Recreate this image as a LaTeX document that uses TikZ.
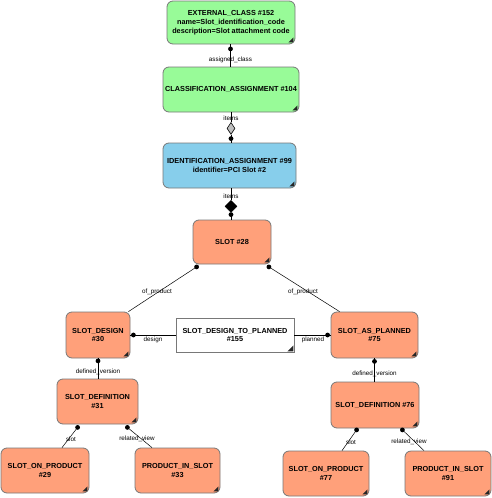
\documentclass[tikz,border=0pt]{standalone}
\usepackage{fontspec}
\setmainfont{Liberation Sans}
\usetikzlibrary{calc,shapes.geometric}
\definecolor{entgreen}{RGB}{152,251,152}
\definecolor{entblue}{RGB}{135,206,235}
\definecolor{entsalmon}{RGB}{255,160,122}
\definecolor{entborder}{RGB}{120,120,120}
\begin{document}
\begin{tikzpicture}[x=1pt,y=-1pt,
  ent/.style={draw=entborder, line width=0.8pt, rounded corners=6pt, align=center,
    font=\fontsize{7.3}{8.8}\selectfont\bfseries, inner sep=1pt},
  green/.style={ent, fill=entgreen},
  blue/.style={ent, fill=entblue},
  salmon/.style={ent, fill=entsalmon},
  plainbox/.style={draw=entborder, line width=0.8pt, fill=white, align=center,
    font=\fontsize{7.3}{8.8}\selectfont\bfseries, inner sep=1pt},
  lbl/.style={font=\fontsize{6.3}{7}\selectfont, inner sep=0.5pt},
  conn/.style={line width=0.6pt, black},
  dotend/.style={fill=black},
  opendia/.style={diamond, draw=black, fill=black!25, line width=0.6pt, minimum width=8pt, minimum height=12pt, inner sep=0pt},
  filldia/.style={diamond, draw=black, fill=black, minimum width=12pt, minimum height=12pt, inner sep=0pt}
]
\useasboundingbox (0,0) rectangle (492,498);

% nodes
\node[green, minimum width=128pt, minimum height=43pt] (ec) at (231,22.5)
  {EXTERNAL\_CLASS \#152\\name=Slot\_identification\_code\\description=Slot attachment code};
\node[green, minimum width=136pt, minimum height=45pt] (ca) at (231,89.5)
  {CLASSIFICATION\_ASSIGNMENT \#104};
\node[blue, minimum width=133pt, minimum height=45pt] (ia) at (229.5,165.5)
  {IDENTIFICATION\_ASSIGNMENT \#99\\identifier=PCI Slot \#2};
\node[salmon, minimum width=78pt, minimum height=44pt] (slot) at (232,242) {SLOT \#28};
\node[salmon, minimum width=64pt, minimum height=46pt] (sd) at (98,335) {SLOT\_DESIGN\\\#30};
\node[plainbox, minimum width=118pt, minimum height=34pt] (sdtp) at (235,335) {SLOT\_DESIGN\_TO\_PLANNED\\\#155};
\node[salmon, minimum width=87pt, minimum height=46pt] (sap) at (374.5,335) {SLOT\_AS\_PLANNED\\\#75};
\node[salmon, minimum width=81pt, minimum height=45pt] (sdefa) at (97.5,401.5) {SLOT\_DEFINITION\\\#31};
\node[salmon, minimum width=88pt, minimum height=45pt] (sopa) at (45,470.5) {SLOT\_ON\_PRODUCT\\\#29};
\node[salmon, minimum width=85pt, minimum height=45pt] (pisa) at (177.5,470.5) {PRODUCT\_IN\_SLOT\\\#33};
\node[salmon, minimum width=88pt, minimum height=46pt] (sdefb) at (375,405) {SLOT\_DEFINITION \#76};
\node[salmon, minimum width=86pt, minimum height=45pt] (sopb) at (326,473.5) {SLOT\_ON\_PRODUCT\\\#77};
\node[salmon, minimum width=86pt, minimum height=45pt] (pisb) at (448,473.5) {PRODUCT\_IN\_SLOT\\\#91};

% folded corner marks
\foreach \n in {ec,ca,ia,slot,sd,sap,sdefa,sopa,pisa,sdefb,sopb,pisb}
  \fill[black!85] ($(\n.south east)+(-2,-2)$) -- ++(-5,0) -- ++(5,-5) -- cycle;
\fill[black!85] ($(sdtp.south east)+(-1,-1)$) -- ++(-6,0) -- ++(6,-6) -- cycle;

% ec -> ca
\coordinate (c1a) at ($(ec.south)+(-0.5,0)$);
\coordinate (c1b) at (c1a |- ca.north);
\draw[conn] (c1a) -- (c1b);
\fill ($(c1a)+(0,4.5)$) circle (2.4);
\node[lbl] (l1) at ($(c1a)+(0,15.5)$) {assigned\_class};

% ca -> ia
\coordinate (c2a) at (ca.south);
\coordinate (c2b) at (c2a |- ia.north);
\node[opendia] (d2) at ($(c2a)+(0,16)$) {};
\draw[conn] (c2a) -- (d2.north);
\draw[conn] (d2.south) -- (c2b);
\fill ($(c2b)+(0,-4)$) circle (2.4);
\node[lbl] (l2) at ($(c2a)+(0,6)$) {items};

% ia -> slot
\coordinate (c3a) at (c2a |- ia.south);
\coordinate (c3b) at (c2a |- slot.north);
\node[filldia] (d3) at ($(c3a)+(0,18)$) {};
\draw[conn] (c3a) -- (d3.north);
\draw[conn] (d3.south) -- (c3b);
\fill ($(c3b)+(0,-5)$) circle (2.4);
\node[lbl] (l3) at ($(c3a)+(0,8)$) {items};

% slot -> sd
\coordinate (c4a) at ($(slot.south west)+(4,2.5)$);
\coordinate (c4b) at ($(sd.north east)+(-2,0)$);
\draw[conn, line width=0.5pt] (c4a) -- (c4b);
\fill (c4a) circle (2.4);
\node[lbl] (l4) at (157,292) {of\_product};

% slot -> sap
\coordinate (c5a) at ($(slot.south east)+(-2.5,2.5)$);
\coordinate (c5b) at ($(sap.north west)+(9,0)$);
\draw[conn, line width=0.5pt] (c5a) -- (c5b);
\fill (c5a) circle (2.4);
\node[lbl] (l5) at (303,292) {of\_product};

% sdtp -> sd
\draw[conn] (sdtp.west) -- (sd.east);
\fill ($(sd.east)+(3,0)$) circle (2.4);
\node[lbl] (l6) at (153,340) {design};

% sdtp -> sap
\draw[conn] (sdtp.east) -- (sap.west);
\fill ($(sap.west)+(-3,0)$) circle (2.4);
\node[lbl] (l7) at (313,340) {planned};

% sd -> sdefa
\coordinate (c8a) at (sd.south);
\coordinate (c8b) at (c8a |- sdefa.north);
\draw[conn] (c8a) -- (c8b);
\fill ($(c8a)+(0,2.5)$) circle (2.4);
\node[lbl] (l8) at ($(c8a)+(0,13)$) {defined\_version};

% sap -> sdefb
\coordinate (c9a) at (sap.south);
\coordinate (c9b) at (c9a |- sdefb.north);
\draw[conn] (c9a) -- (c9b);
\fill ($(c9a)+(0,3)$) circle (2.4);
\node[lbl] (l9) at ($(c9a)+(0,15)$) {defined\_version};

% sdefa -> sopa, pisa
\coordinate (c10a) at ($(sdefa.south west)+(21,3)$);
\coordinate (c10b) at ($(sopa.north)+(17,0)$);
\draw[conn, line width=0.5pt] (c10a) -- (c10b);
\fill (c10a) circle (2.4);
\node[lbl] (l10) at (71,439) {slot};
\coordinate (c11a) at ($(sdefa.south east)+(-11,3)$);
\coordinate (c11b) at ($(pisa.north)+(-25.5,0)$);
\draw[conn, line width=0.5pt] (c11a) -- (c11b);
\fill (c11a) circle (2.4);
\node[lbl] (l11) at (137,439) {related\_view};

% sdefb -> sopb, pisb
\coordinate (c12a) at ($(sdefb.south west)+(26,1.5)$);
\coordinate (c12b) at ($(sopb.north)+(16,0)$);
\draw[conn, line width=0.5pt] (c12a) -- (c12b);
\fill (c12a) circle (2.4);
\node[lbl] (l12) at (351,442) {slot};
\coordinate (c13a) at ($(sdefb.south east)+(-17,1.5)$);
\coordinate (c13b) at ($(pisb.north)+(-24,0)$);
\draw[conn, line width=0.5pt] (c13a) -- (c13b);
\fill (c13a) circle (2.4);
\node[lbl] (l13) at (409,442) {related\_view};
\end{tikzpicture}
\end{document}
